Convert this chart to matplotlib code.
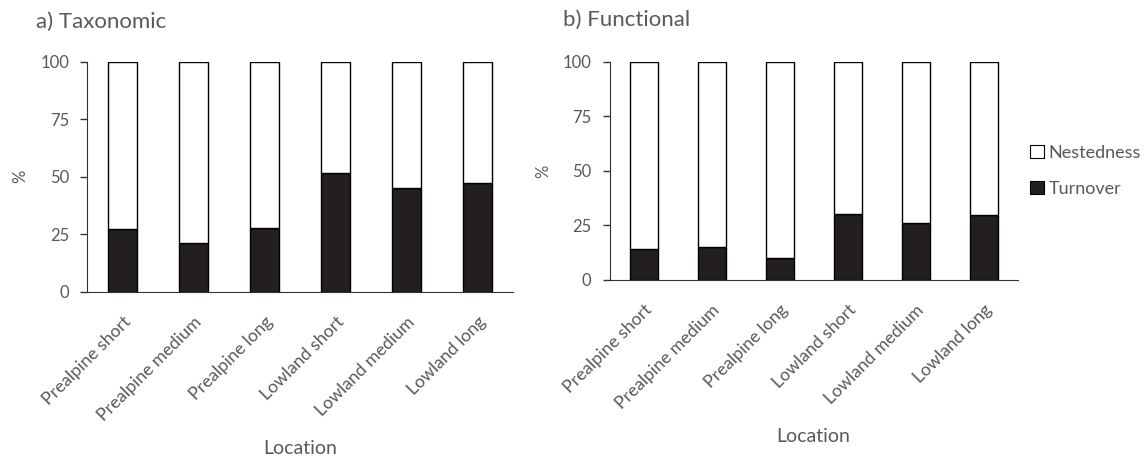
import numpy as np
import matplotlib.pyplot as plt
from matplotlib.patches import Patch

locations = ['Prealpine short', 'Prealpine medium', 'Prealpine long',
             'Lowland short', 'Lowland medium', 'Lowland long']
turnover_tax = [27.1, 21.0, 27.7, 51.5, 45.0, 47.4]
turnover_fun = [14.1, 15.0, 9.8, 30.3, 25.9, 29.9]
nested_tax = [100 - v for v in turnover_tax]
nested_fun = [100 - v for v in turnover_fun]

plt.rcParams['font.family'] = ['Lato', 'DejaVu Sans']
grey = '#595959'
dark = '#231f20'

fig = plt.figure(figsize=(11.46, 4.58), dpi=100)
ax1 = fig.add_axes([0.076, 0.363, 0.372, 0.502])
ax2 = fig.add_axes([0.532, 0.389, 0.356, 0.476])

x = np.arange(len(locations))
for ax, turn, nest in ((ax1, turnover_tax, nested_tax),
                       (ax2, turnover_fun, nested_fun)):
    ax.bar(x, turn, width=0.41, color=dark, edgecolor='black', lw=1.0)
    ax.bar(x, nest, bottom=turn, width=0.41, color='white',
           edgecolor='black', lw=1.0)
    ax.set_xlim(-0.5, len(locations) - 0.5)
    ax.set_ylim(0, 100)
    ax.set_yticks([0, 25, 50, 75, 100])
    ax.set_xticks(x)
    ax.set_xticklabels(locations, rotation=45, ha='right',
                       rotation_mode='anchor', color=grey, fontsize=12.7)
    ax.tick_params(axis='x', length=0, pad=16)
    ax.tick_params(axis='y', labelcolor=grey, labelsize=12, length=5,
                   width=1, pad=8, color='#333333')
    for s in ('top', 'right'):
        ax.spines[s].set_visible(False)
    ax.spines['left'].set_color('#333333')
    ax.spines['bottom'].set_color('#333333')
    ax.set_ylabel('%', color=grey, fontsize=12, va='center')
    ax.set_xlabel('Location', color=grey, fontsize=14, va='center')

ax1.yaxis.set_label_coords(-0.157, 0.5)
ax2.yaxis.set_label_coords(-0.162, 0.5)
ax1.xaxis.set_label_coords(0.5, -0.68)
ax2.xaxis.set_label_coords(0.5, -0.72)

fig.text(0.031, 0.952, 'a) Taxonomic', color=grey, fontsize=16, va='center')
fig.text(0.491, 0.956, 'b) Functional', color=grey, fontsize=16, va='center')

handles = [Patch(facecolor='white', edgecolor='black', lw=0.8, label='Nestedness'),
           Patch(facecolor=dark, edgecolor='black', lw=0.8, label='Turnover')]
leg = fig.legend(handles=handles, loc='center left',
                 bbox_to_anchor=(0.899, 0.627), frameon=False,
                 handlelength=0.75, handleheight=0.75, handletextpad=0.25,
                 labelspacing=1.1, fontsize=13, borderaxespad=0,
                 borderpad=0)
for t in leg.get_texts():
    t.set_color(grey)

fig.savefig('out.png', dpi=100)
